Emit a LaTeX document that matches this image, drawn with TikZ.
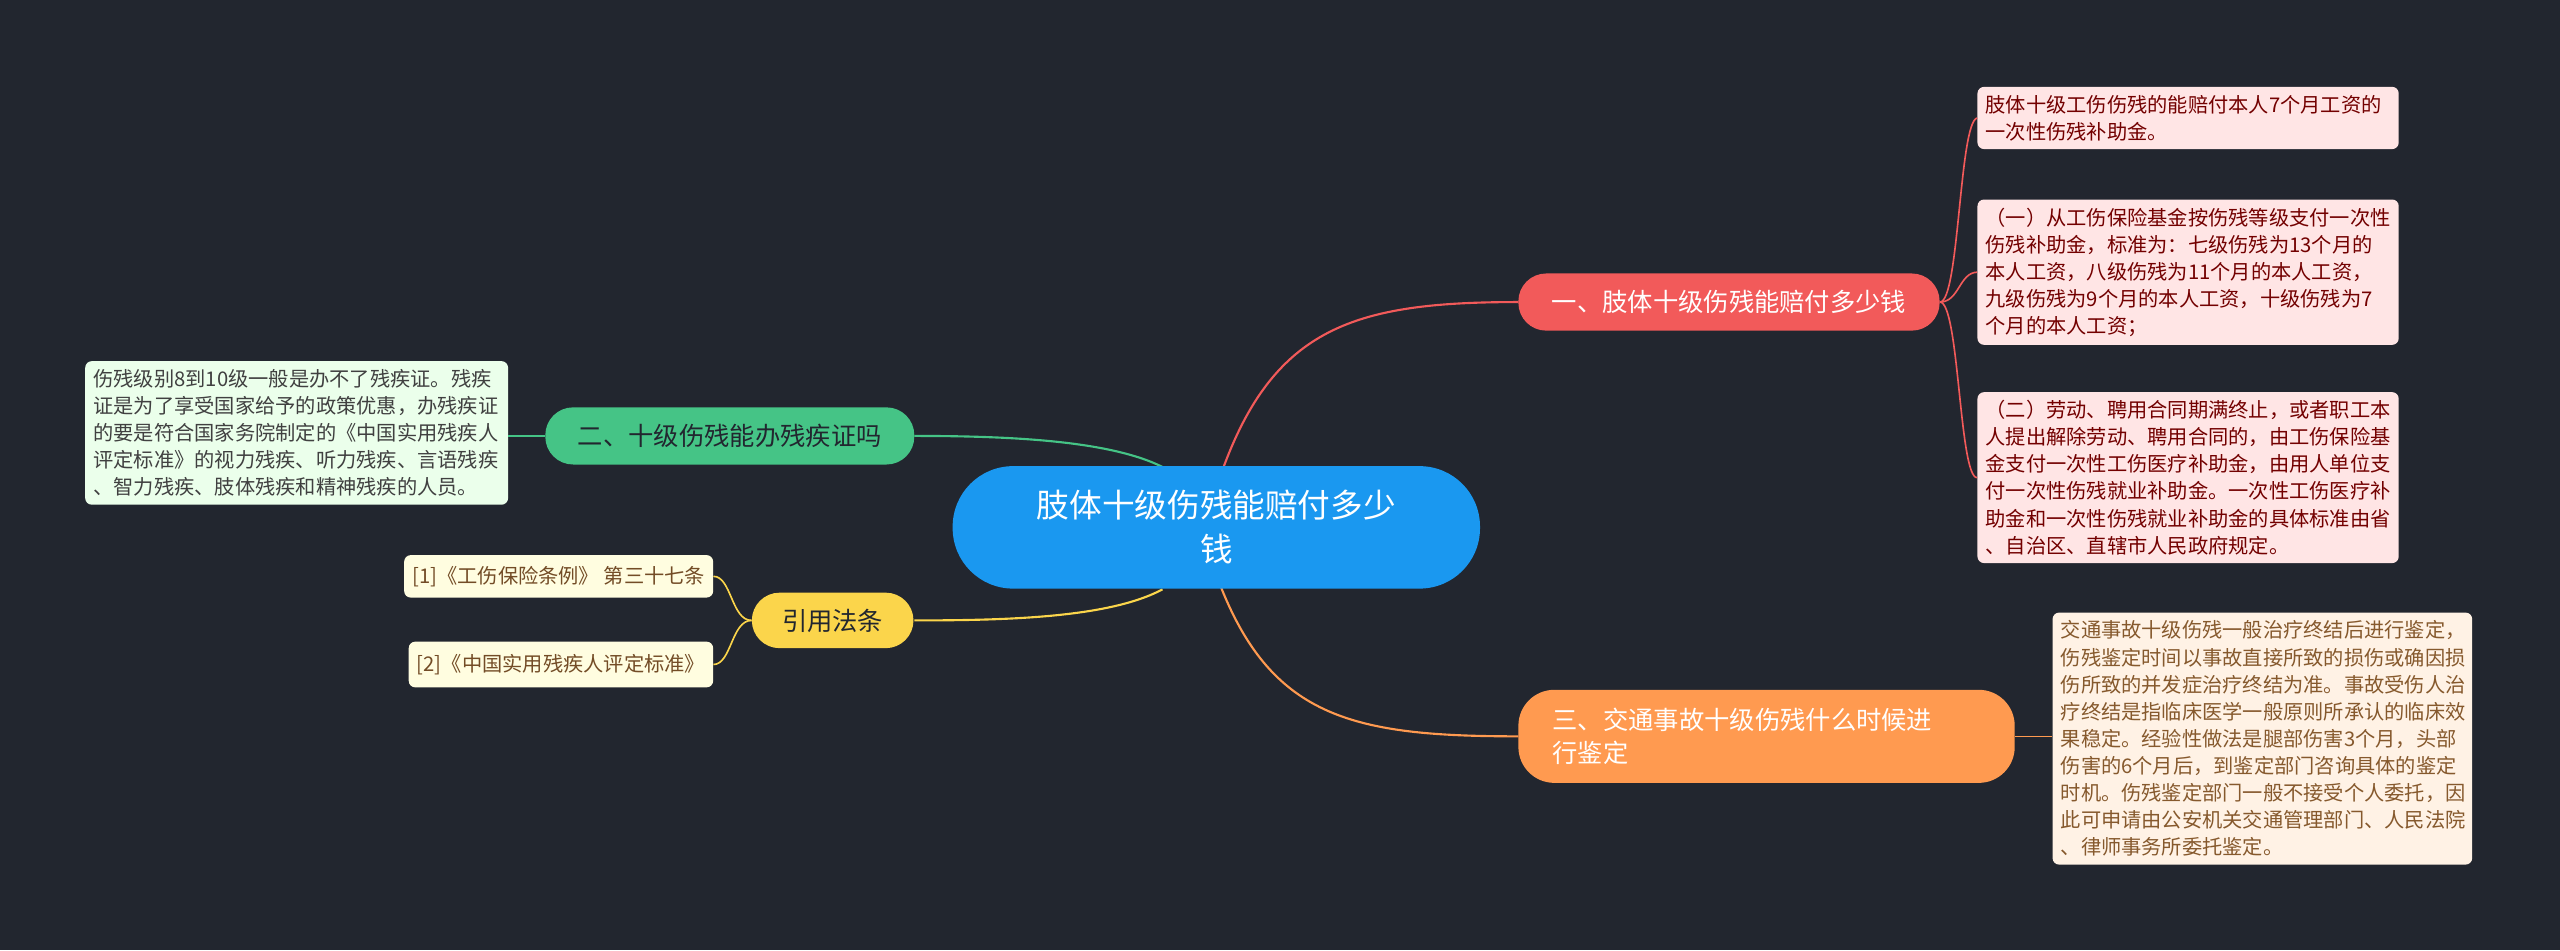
\documentclass[tikz,border=0pt]{standalone}
\usepackage{fontspec}
\newfontfamily\cjk{Noto Sans CJK SC}
\definecolor{bg}{HTML}{22262F}
\definecolor{cblue}{HTML}{1A98F0}
\definecolor{cred}{HTML}{F25A5A}
\definecolor{corange}{HTML}{FF9A50}
\definecolor{cgreen}{HTML}{45C486}
\definecolor{cyellow}{HTML}{FBD54B}
\tikzset{
 leaf/.style={rounded corners=4pt,align=left,inner sep=5pt,font=\cjk\fontsize{12.4}{16.6}\selectfont,anchor=north west},
 topic/.style={rounded corners=17pt,align=left,inner sep=0pt,font=\cjk\fontsize{15.5}{20}\selectfont},
 conn/.style={line width=1.3pt}
}
\begin{document}
\begin{tikzpicture}[x=1pt,y=-1pt]
\fill[bg] (0,0) rectangle (1568,582);
\useasboundingbox (0,0) rectangle (1568,582);
% connectors
\coordinate (c1) at (748,290);
\coordinate (c2) at (712,286);
\coordinate (c3) at (712,361);
\coordinate (c4) at (748,360);
\draw[conn,cred] (c1) .. controls (780,200) and (830,185) .. (930,185);
\draw[conn,cgreen] (c2) .. controls (680,270) and (620,267) .. (560,267);
\draw[conn,cyellow] (c3) .. controls (680,378) and (620,380) .. (560,380);
\draw[conn,corange] (c4) .. controls (780,440) and (830,451) .. (930,451);
% center
\node[fill=cblue,rounded corners=37pt,minimum width=323pt,minimum height=75pt,align=center,text=white,font=\cjk\fontsize{20}{27}\selectfont] (root) at (745,323) {肢体十级伤残能赔付多少\\钱};
% topics
\node[topic,fill=cred,text=white,minimum width=258pt,minimum height=35pt,align=center] (t1) at (1059,185) {一、肢体十级伤残能赔付多少钱};
\node[topic,fill=corange,text=white,minimum height=57pt,text width=262pt,inner xsep=21pt,rounded corners=22pt] (t3) at (1082,451) {三、交通事故十级伤残什么时候进\\行鉴定};
\node[topic,fill=cgreen,text=bg,minimum width=226pt,minimum height=35pt,align=center] (t2) at (447,267) {二、十级伤残能办残疾证吗};
\node[topic,fill=cyellow,text=bg,minimum width=99pt,minimum height=34pt,align=center] (t4) at (510,380) {引用法条};
% leaves right
\node[leaf,fill=red!10!white,text=red!45!black,text width=248pt] (a) at (1211,53) {肢体十级工伤伤残的能赔付本人7个月工资的\\一次性伤残补助金。};
\node[leaf,fill=red!10!white,text=red!45!black,text width=248pt] (b) at (1211,122) {（一）从工伤保险基金按伤残等级支付一次性\\伤残补助金，标准为：七级伤残为13个月的\\本人工资，八级伤残为11个月的本人工资，\\九级伤残为9个月的本人工资，十级伤残为7\\个月的本人工资；};
\node[leaf,fill=red!10!white,text=red!45!black,text width=248pt] (c) at (1211,240) {（二）劳动、聘用合同期满终止，或者职工本\\人提出解除劳动、聘用合同的，由工伤保险基\\金支付一次性工伤医疗补助金，由用人单位支\\付一次性伤残就业补助金。一次性工伤医疗补\\助金和一次性伤残就业补助金的具体标准由省\\、自治区、直辖市人民政府规定。};
\node[leaf,fill=orange!10!white,text=brown!70!black,text width=247pt] (d) at (1257,375) {交通事故十级伤残一般治疗终结后进行鉴定，\\伤残鉴定时间以事故直接所致的损伤或确因损\\伤所致的并发症治疗终结为准。事故受伤人治\\疗终结是指临床医学一般原则所承认的临床效\\果稳定。经验性做法是腿部伤害3个月，头部\\伤害的6个月后，到鉴定部门咨询具体的鉴定\\时机。伤残鉴定部门一般不接受个人委托，因\\此可申请由公安机关交通管理部门、人民法院\\、律师事务所委托鉴定。};
% leaves left
\node[leaf,fill=green!8!white,text=black!75,text width=249pt] (e) at (52,221) {伤残级别8到10级一般是办不了残疾证。残疾\\证是为了享受国家给予的政策优惠，办残疾证\\的要是符合国家务院制定的《中国实用残疾人\\评定标准》的视力残疾、听力残疾、言语残疾\\、智力残疾、肢体残疾和精神残疾的人员。};
\node[leaf,fill=yellow!12!white,text=brown!60!black,anchor=east,minimum height=26pt,align=center] (r1) at (437,353) {[1]《工伤保险条例》 第三十七条};
\node[leaf,fill=yellow!12!white,text=brown!60!black,anchor=east,minimum height=28pt,align=center] (r2) at (437,407) {[2]《中国实用残疾人评定标准》};
% leaf connectors
\draw[conn,cred,line width=1pt] (t1.east) .. controls (1200,185) and (1200,75) .. (a.west);
\draw[conn,cred,line width=1pt] (t1.east) .. controls (1200,185) and (1200,167) .. (b.west);
\draw[conn,cred,line width=1pt] (t1.east) .. controls (1200,185) and (1200,293) .. (c.west);
\draw[conn,corange,line width=1pt] (t3.east) -- (d.west |- t3.east);
\draw[conn,cgreen,line width=1pt] (t2.west) -- (e.east |- t2.west);
\draw[conn,cyellow,line width=1pt] (t4.west) .. controls (448,380) and (448,353) .. (r1.east);
\draw[conn,cyellow,line width=1pt] (t4.west) .. controls (448,380) and (448,407) .. (r2.east);
\end{tikzpicture}
\end{document}
